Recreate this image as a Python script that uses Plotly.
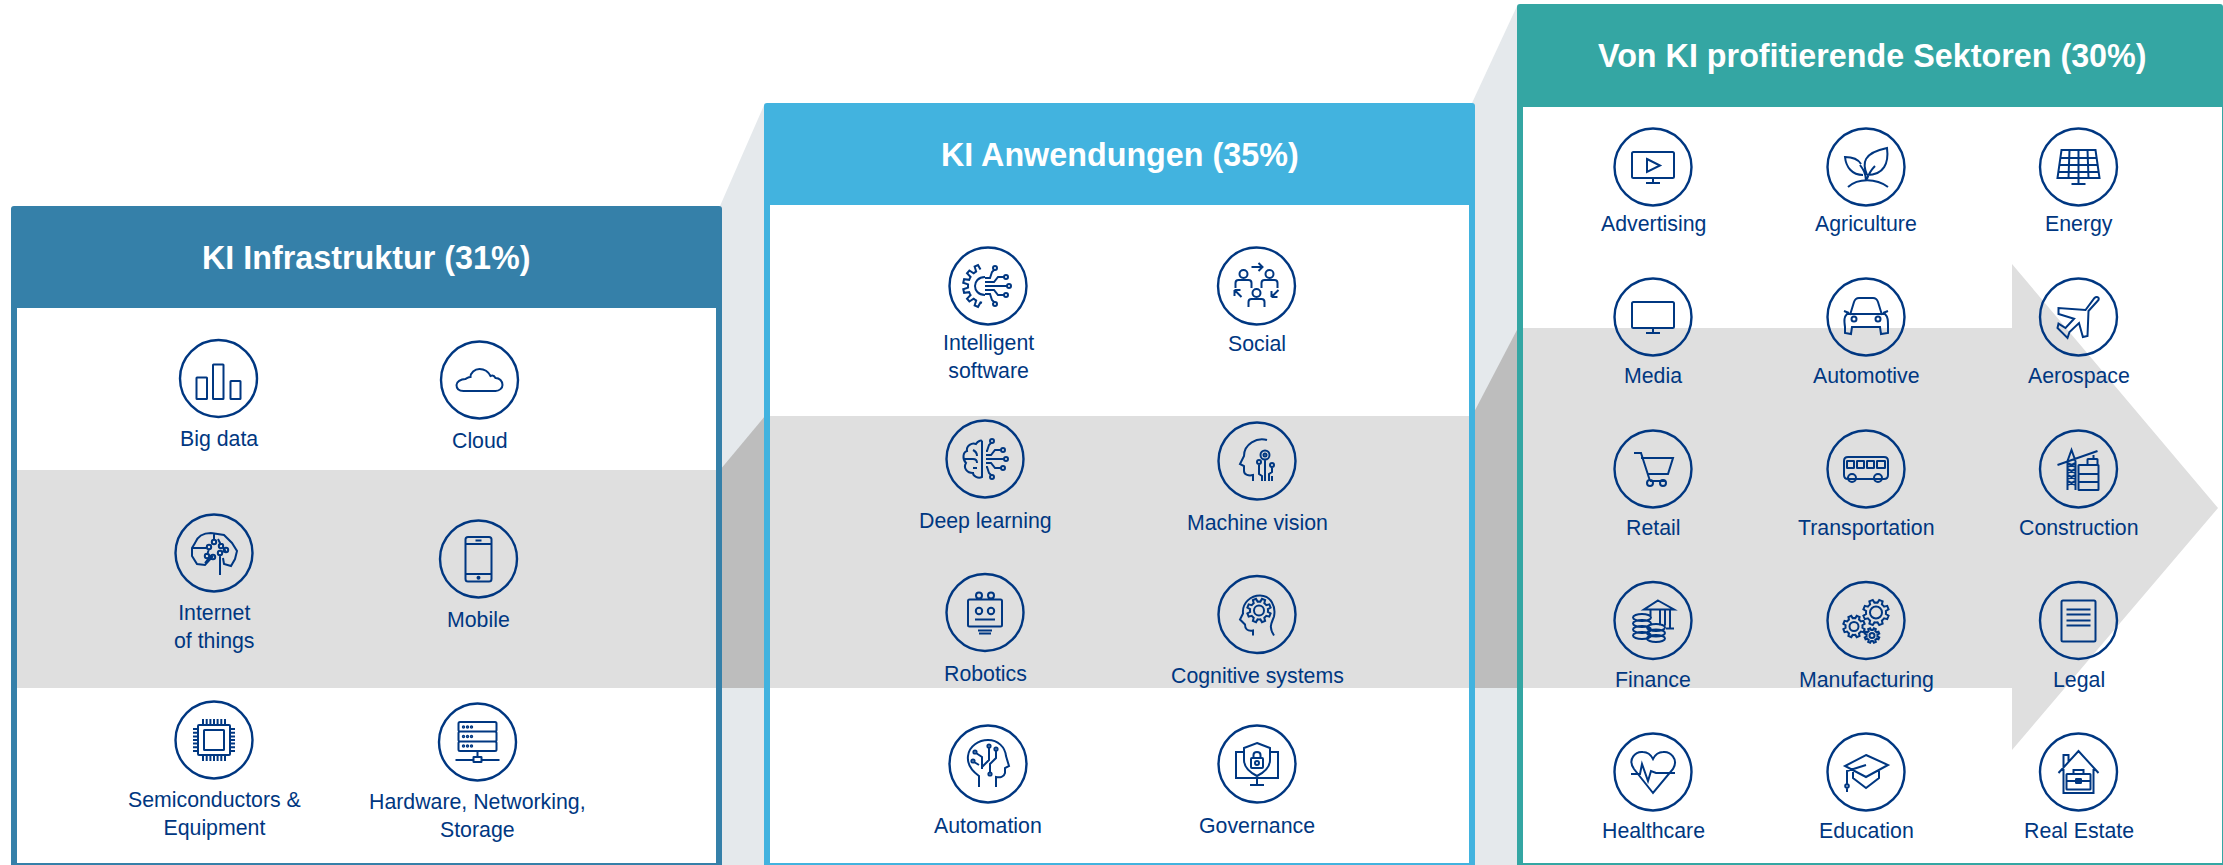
import math, re
import plotly.graph_objects as go

# ---------- text content ----------
panel_titles = ["KI Infrastruktur (31%)", "KI Anwendungen (35%)", "Von KI profitierende Sektoren (30%)"]
infra_labels = ["Big data", "Cloud", "Internet<br>of things", "Mobile",
                "Semiconductors &<br>Equipment", "Hardware, Networking,<br>Storage"]
apps_labels = ["Intelligent<br>software", "Social", "Deep learning", "Machine vision",
               "Robotics", "Cognitive systems", "Automation", "Governance"]
sector_labels = ["Advertising", "Agriculture", "Energy", "Media", "Automotive", "Aerospace",
                 "Retail", "Transportation", "Construction", "Finance", "Manufacturing", "Legal",
                 "Healthcare", "Education", "Real Estate"]

# ---------- layout (pixel canvas) ----------
W, H = 2223, 865
NAVY = "#003781"
C1, C2, C3 = "#3580A9", "#42B3DF", "#34A6A3"
BAND, DARK, LIGHT = "#DFDFDF", "#BDBDBD", "#E5E9EC"

infra_pos = [(218.5, 378.5, 438.5), (479.5, 380, 440.5), (214, 553, 627), (478.5, 559, 619.5),
             (214, 740, 813.5), (477.5, 742, 815.5)]
apps_pos = [(988, 286, 356.5), (1256.5, 286, 343.5), (985, 459, 520.5), (1257, 461, 522.5),
            (985, 612.5, 673.5), (1257, 614.5, 675.5), (988, 764, 825.5), (1257, 764, 825.5)]
cols3 = [1653, 1866, 2078.5]
rows3 = [(167, 223.5), (317, 375.5), (469, 527.5), (620.5, 679.5), (772, 830.5)]
sector_pos = [(x, cy, ly) for cy, ly in rows3 for x in cols3]


# ---------- path helpers (local coordinates, y down, circle radius 39) ----------
def C(cx, cy, r):
    return ELL(cx, cy, r, r)

def ELL(cx, cy, rx, ry):
    k = 0.5523
    return (f"M {cx-rx} {cy} C {cx-rx} {cy-k*ry} {cx-k*rx} {cy-ry} {cx} {cy-ry} "
            f"C {cx+k*rx} {cy-ry} {cx+rx} {cy-k*ry} {cx+rx} {cy} "
            f"C {cx+rx} {cy+k*ry} {cx+k*rx} {cy+ry} {cx} {cy+ry} "
            f"C {cx-k*rx} {cy+ry} {cx-rx} {cy+k*ry} {cx-rx} {cy} Z")

def RR(x0, y0, x1, y1, r=1.5):
    return (f"M {x0+r} {y0} L {x1-r} {y0} Q {x1} {y0} {x1} {y0+r} L {x1} {y1-r} Q {x1} {y1} {x1-r} {y1} "
            f"L {x0+r} {y1} Q {x0} {y1} {x0} {y1-r} L {x0} {y0+r} Q {x0} {y0} {x0+r} {y0} Z")

def gear(cx, cy, ro, ri, n, a0=0, a1=360, close=True):
    pts = []
    step = (a1 - a0) / n
    for i in range(n):
        a = a0 + i * step
        for f, r in [(0.0, ri), (0.2, ri), (0.32, ro), (0.68, ro), (0.8, ri)]:
            t = math.radians(a + f * step)
            pts.append((cx + r * math.cos(t), cy + r * math.sin(t)))
    s = "M " + " L ".join(f"{x:.2f} {y:.2f}" for x, y in pts)
    return s + (" Z" if close else "")

def circuit(x0):
    parts = [f"M {x0} 0 L 19 0", C(21, 0, 2)]
    for s in (-1, 1):
        parts += [f"M {x0} {4*s} L 6 {4*s} L 10 {9*s} L 16 {9*s}", C(18, 9*s, 2),
                  f"M {x0} {8*s} L 2 {8*s} L 4 {14*s} L 6 {16*s}", C(7, 18*s, 2)]
    return " ".join(parts)

def person(x, y):
    return C(x, y - 7, 4) + f" M {x-8} {y+7} L {x-8} {y+2} Q {x-8} {y-1} {x-5} {y-1} L {x+5} {y-1} Q {x+8} {y-1} {x+8} {y+2} L {x+8} {y+7}"

def monitor():
    return RR(-21, -15, 21, 11) + " M 0 11 L 0 16 M -7 16 L 7 16"

def tr(path, dx, dy):
    out, is_x = [], True
    for tok in path.split():
        if tok.isalpha():
            out.append(tok)
            is_x = True
        else:
            out.append(f"{float(tok) + (dx if is_x else dy):.2f}")
            is_x = not is_x
    return " ".join(out)


chip_pins = " ".join(
    f"M {p} -15 L {p} -21 M {p} 15 L {p} 21 M -15 {p} L -21 {p} M 15 {p} L 21 {p}"
    for p in (-11, -7.3, -3.6, 0, 3.6, 7.3, 11))
server_dots = " ".join(C(x, y, 0.7) for y in (-15, -5.5, 4) for x in (-14, -10, -6))
solar_grid = "M -19 -9 L 19 -9 M -20 -2 L 20 -2 M -20.5 5 L 20.5 5 M -9 -17 L -10 11 M 0 -17 L 0 11 M 9 -17 L 10 11"
crane_lattice = " ".join(f"M -11 {y} L -3 {y+4} M -3 {y} L -11 {y+4}" for y in (-6, 0, 6, 12))

infra_icons = [
    RR(-22, -1, -11.5, 20.5, .5) + " " + RR(-5.5, -14, 5, 20.5, .5) + " " + RR(12, 2.5, 22, 20.5, .5),
    "M -16 11 L 16 11 C 20 11 23 8 23 5 C 23 1 20 -2 16 -2 C 15 -4 13 -5 11 -4 C 9 -8 5 -11 0 -11 "
    "C -5 -11 -9 -7 -9 -3 C -11 -3 -12 -2 -14 -1 C -19 -1 -23 2 -23 5 C -23 9 -20 11 -16 11 Z",
    "M -3 -20 C -10 -20 -16 -18 -19 -10 L -22 -5 L -22 3 L -17 11 L -9 12 L -1 3 "
    "M -3 -20 L 10 -18 L 18 -10 L 23 -2 L 21 6 L 17 13 L 10 11 L 9 5 M -22 -5 L -8 -5 M 6 22 L 6 1 "
    "M 0 -20 L 0 -13 M 7 -8 L 4 -14 M 12 -3 L 8 -1 M -9 10 L -5 5 M -7 2 L -5 -4 "
    + " ".join(C(x, y, 2.2) for x, y in [(-5, -6), (0, -11), (7, -7), (12, -3), (-7, 3), (-1, 4), (6, 0)]),
    RR(-13, -22, 13, 22.5, 2.5) + " M -13 -15 L 13 -15 M -13 15 L 13 15 M -3 -18.5 L 3 -18.5 " + C(0, 18.8, 1),
    RR(-16, -15, 16, 15, 1) + " " + RR(-10, -10, 10, 10, .5) + " " + chip_pins,
    RR(-19, -20, 19, -10.5) + " " + RR(-19, -10.5, 19, -0.5) + " " + RR(-19, -0.5, 19, 9) + " " + server_dots
    + " M 0 9 L 0 15 " + RR(-4, 15, 4, 20, .3) + " M -22 18 L -4 18 M 4 18 L 22 18",
]

apps_icons = [
    gear(-3, 0, 22, 17, 6, 100, 260, close=False)
    + " M -3 -9 C -10 -9 -13 -4 -13 0 C -13 4 -10 9 -3 9 " + circuit(-3),
    person(-13, -5) + " " + person(13, -5) + " " + person(0, 14)
    + " M -5 -19 L 6 -19 M 2 -23 L 6 -19 L 2 -15 "
    + " M -22 4 L -15 11 M -22 4 L -22 10 M -22 4 L -16 4 M 22 4 L 15 11 M 15 11 L 21 11 M 15 11 L 15 5",
    "M -3 -18 L -3 18 C -7 20 -12 17 -12 14 C -18 14 -22 9 -19 4 C -23 0 -22 -7 -18 -8 "
    "C -19 -13 -13 -17 -9 -15 C -7 -18 -4 -19 -3 -18 M -12 -9 C -10 -8 -8 -6 -8 -3 "
    "M -21 0 L -12 0 C -9 0 -8 2 -8 4 M -12 9 L -8 9 " + circuit(1),
    "M 10 -21 C 0 -24 -13 -17 -13 -5 L -17 3 L -13 5 L -13 10 C -13 14 -8 15 -4 14 L -4 20 "
    + C(8, -6, 4.5) + " " + C(8, -6, 1.5) + " M 8 -1 L 8 20 "
    + C(2, 1, 2) + " M 2 3 L 2 13 L 5 15 L 5 20 " + C(15, 4, 2) + " M 15 6 L 15 11 L 12 13 L 12 20 M 15 15 L 15 20",
    RR(-17, -13, 17, 14) + " " + C(-6, -1.5, 3.2) + " " + C(6, -1.5, 3.2) + " M -10 7 L 10 7 "
    + C(-6, -17, 3) + " " + C(6, -17, 3) + " M -7 18 L 7 18 M -6 21 L 6 21",
    "M -4 21 L -4 16 C -10 17 -12 14 -12 10 L -17 5 L -14 -1 C -15 -12 -6 -19 3 -19 "
    "C 14 -19 19 -8 17 2 C 15 8 11 12 17 21 " + gear(2, -4, 12, 9, 8) + " " + C(2, -4, 5),
    "M -9 23 L -9 12 C -16 7 -21 0 -20 -8 C -19 -18 -9 -24 0 -24 C 10 -24 17 -17 18 -8 L 21 2 L 17 4 L 17 9 "
    "C 16 13 12 14 8 13 L 8 23 M -12 -11 L -6 -7 L -6 5 M 1 -16 L 1 -4 L -6 3 M 8 -13 L 8 -6 L 2 0 L 2 8 "
    "M -14 -2 L -9 1 " + " ".join(C(x, y, 1.6) for x, y in [(-13, -12), (1, -18), (8, -15), (-15, -3), (2, 10)]),
    "M -13 -12 L -21 -12 L -21 14 L 21 14 L 21 -12 L 13 -12 M 0 14 L 0 20 M -7 21 L 7 21 "
    "M 0 -21 L 13 -16 L 13 -4 C 13 4 6 9 0 12 C -6 9 -13 4 -13 -4 L -13 -16 Z "
    + RR(-6, -6, 6, 4, 1) + " M -3.5 -6 L -3.5 -9 C -3.5 -13 3.5 -13 3.5 -9 L 3.5 -6 " + C(0, -1, 2),
]

sector_icons = [
    monitor() + " M -6 -8 L 7 -1.5 L -6 5 Z",
    "M 1 8 C -4 -4 -3 -14 21 -19 C 23 -4 18 8 1 8 M -3 8 C -14 8 -20 0 -21 -10 C -15 -10 -8 -8 -5 -3 "
    "M 0 14 C 0 6 -3 2 -6 -2 M 1 12 C 3 6 6 2 9 -1 M -18 20 C -8 11 10 11 22 20",
    "M -17 -17 L 17 -17 L 21 11 L -21 11 Z " + solar_grid + " M 0 11 L 0 17 M -7 17 L 7 17",
    monitor(),
    "M -16 -2 L -12 -15 C -11 -18 -9 -19 -7 -19 L 7 -19 C 9 -19 11 -18 12 -15 L 16 -2 "
    "M -19 -3 L 19 -3 C 22 0 22 3 22 10 L 22 16 L 15 17 L 14 10 L -14 10 L -15 17 L -21 16 L -21 10 C -22 3 -22 0 -19 -3 Z "
    "M -22 -6 L -17 -4 M 22 -6 L 17 -4 " + C(-12, 2, 2.5) + " " + C(12, 2, 2.5),
    "M 20 -17 C 21 -20 18 -21 16 -19 L 7 -7 L -20 -9 L -20 -3 L -4.4 1.7 L -13 11 L -20 6.7 L -21 11 L -11 21 L -9 15 "
    "L 0.5 6 L 4.4 20 L 9 19 L 10 -6 Z",
    "M -19 -16 L -12 -16 L -3 12 M -12 -11 L 20 -11 L 15 5 L -6 5 M -3 12 L 13 12 " + C(-3, 14, 3) + " " + C(10, 14, 3),
    RR(-22, -12, 22, 10, 4) + " " + RR(-19, -8, -12, -1, .3) + " " + RR(-9, -8, -2, -1, .3) + " " + RR(1, -8, 8, -1, .3)
    + " " + RR(11, -8, 19, -1, .3) + " " + C(-14, 9, 4) + " " + C(12, 9, 4),
    "M -21 -4 L 19 -18 M -11 21 L -11 -8 M -3 21 L -3 -8 M -11 -8 L -7 -19 L -3 -8 " + crane_lattice + " M 15 -14 L 15 -10 "
    + RR(9, -10, 19, -4, .5) + " " + RR(0, -4, 20, 5, .5) + " " + RR(0, 5, 20, 13, .5) + " " + RR(0, 13, 20, 21, .5),
    "M 5 -20 L 21 -11 L -9 -11 Z M -2.5 -11 L -2.5 -4 M 7 -11 L 7 5 M 12 -11 L 12 5 M 17 -11 L 17 8 M 13 8 L 21 8 "
    + " ".join(ELL(-11, y, 9, 3.5) for y in (-3, 3, 9, 15))
    + " " + " ".join(ELL(3, y, 9, 3.5) for y in (7, 12.5, 18)),
    gear(10, -8, 13, 10, 8) + " " + C(10, -8, 6) + " " + gear(-12, 6, 11, 8.5, 8) + " " + C(-12, 6, 4.5)
    + " " + gear(6, 15, 7.5, 5.5, 8) + " " + C(6, 15, 2.5),
    RR(-17, -20, 17, 21) + " M -12 -11 L 12 -11 M -12 -6 L 12 -6 M -12 0 L 12 0 M -12 5 L 12 5",
    "M 0 21 L -19 -3 C -26 -13 -17 -21 -10 -20 C -6 -20 -2 -17 0 -13 C 2 -17 6 -20 10 -20 C 17 -21 26 -13 20 -3 Z "
    "M -22 2 L -13 2 L -11 -8 L -5 9 L -2 -1 L 3 1 L 22 1",
    "M 0 -17 L 22 -7 L 0 5 L -21 -6 Z M -13 0 L -13 6 L 0 16 L 13 6 L 13 -1 M 0 -7 L -19 -1 L -19 13 "
    + C(-19, 14, 1.8) + " M -19 16 L -19 20",
    "M -20 1 L 0 -21 L 20 1 M -15 -4 L -15 -17 L -10 -17 L -10 -10 M -15 -3 L -15 21 L 15 21 L 15 -3 "
    + RR(-12, 2, 12, 17.5, .5) + " M -5 2 L -5 -2 L 5 -2 L 5 2 M -12 9 L 12 9 " + RR(-2.5, 7, 2.5, 11, .2),
]


def topround(x0, y0, x1, y1, r=3):
    return (f"M {x0} {y1} L {x0} {y0+r} Q {x0} {y0} {x0+r} {y0} L {x1-r} {y0} Q {x1} {y0} {x1} {y0+r} L {x1} {y1} Z")


shapes = []
def poly(points, color):
    d = "M " + " L ".join(f"{x} {y}" for x, y in points) + " Z"
    shapes.append(dict(type="path", path=d, fillcolor=color, line=dict(width=0), xref="x", yref="y"))

def rect(x0, y0, x1, y1, color):
    shapes.append(dict(type="rect", x0=x0, y0=y0, x1=x1, y1=y1, fillcolor=color, line=dict(width=0), xref="x", yref="y"))

# perspective connectors between panels
poly([(720, 206), (765, 103), (765, H), (720, H)], LIGHT)
poly([(1472, 103), (1518, 4), (1518, H), (1472, H)], LIGHT)
poly([(720, 470), (765, 416), (765, 688), (720, 688)], DARK)
poly([(1472, 416), (1518, 328), (1518, 688), (1472, 688)], DARK)

# panels: (frame x0, top, x1, header bottom, inner x0, inner x1, band y0, band y1, colour)
panels = [
    (11, 206, 722, 308, 17, 716, 470, 688, C1),
    (764, 103, 1475, 205, 770, 1469, 416, 688, C2),
    (1517, 4, 2223, 107, 1523, 2222, 328, 688, C3),
]
for x0, top, x1, hb, ix0, ix1, b0, b1, col in panels[:2]:
    shapes.append(dict(type="path", path=topround(x0, top, x1, H), fillcolor=col, line=dict(width=0), xref="x", yref="y"))
    rect(ix0, hb, ix1, H - 2, "#FFFFFF")
    rect(ix0, b0, ix1, b1, BAND)
x0, top, x1, hb, ix0, ix1, b0, b1, col = panels[2]
shapes.append(dict(type="path", path=topround(x0, top, x1, H), fillcolor=col, line=dict(width=0), xref="x", yref="y"))
rect(ix0, hb, ix1, H - 2, "#FFFFFF")
poly([(ix0, 328), (2012, 328), (2012, 264), (2218, 508), (2012, 750), (2012, 688), (ix0, 688)], BAND)

annotations = []
for title, x, y in zip(panel_titles, (366, 1119.5, 1872.5), (258, 155, 56)):
    annotations.append(dict(x=x, y=y, text=title, showarrow=False, xanchor="center", yanchor="middle",
                            xref="x", yref="y",
                            font=dict(family="Liberation Sans", size=32.3, color="#FFFFFF", weight="bold")))

for labels, positions, icons in [(infra_labels, infra_pos, infra_icons),
                                 (apps_labels, apps_pos, apps_icons),
                                 (sector_labels, sector_pos, sector_icons)]:
    for lab, (cx, cy, ly), ic in zip(labels, positions, icons):
        shapes.append(dict(type="path", path=tr(C(0, 0, 38.5), cx, cy), line=dict(color=NAVY, width=2.4),
                           fillcolor="rgba(0,0,0,0)", xref="x", yref="y"))
        shapes.append(dict(type="path", path=tr(ic, cx, cy), line=dict(color=NAVY, width=2),
                           fillcolor="rgba(0,0,0,0)", xref="x", yref="y"))
        annotations.append(dict(x=cx, y=ly, text=lab, showarrow=False, xanchor="center", yanchor="middle",
                                xref="x", yref="y", align="center",
                                font=dict(family="Liberation Sans", size=21.3, color=NAVY)))

fig = go.Figure(go.Scatter(x=[], y=[], hoverinfo="skip", showlegend=False))
fig.update_layout(width=W, height=H, margin=dict(l=0, r=0, t=0, b=0), paper_bgcolor="#FFFFFF", plot_bgcolor="#FFFFFF",
                  shapes=shapes, annotations=annotations, showlegend=False,
                  xaxis=dict(range=[0, W], visible=False, fixedrange=True),
                  yaxis=dict(range=[H, 0], visible=False, fixedrange=True))
fig.write_html("out.html", config=dict(displayModeBar=False),
               post_script="document.body.style.margin='0';document.body.style.overflow='hidden';")
